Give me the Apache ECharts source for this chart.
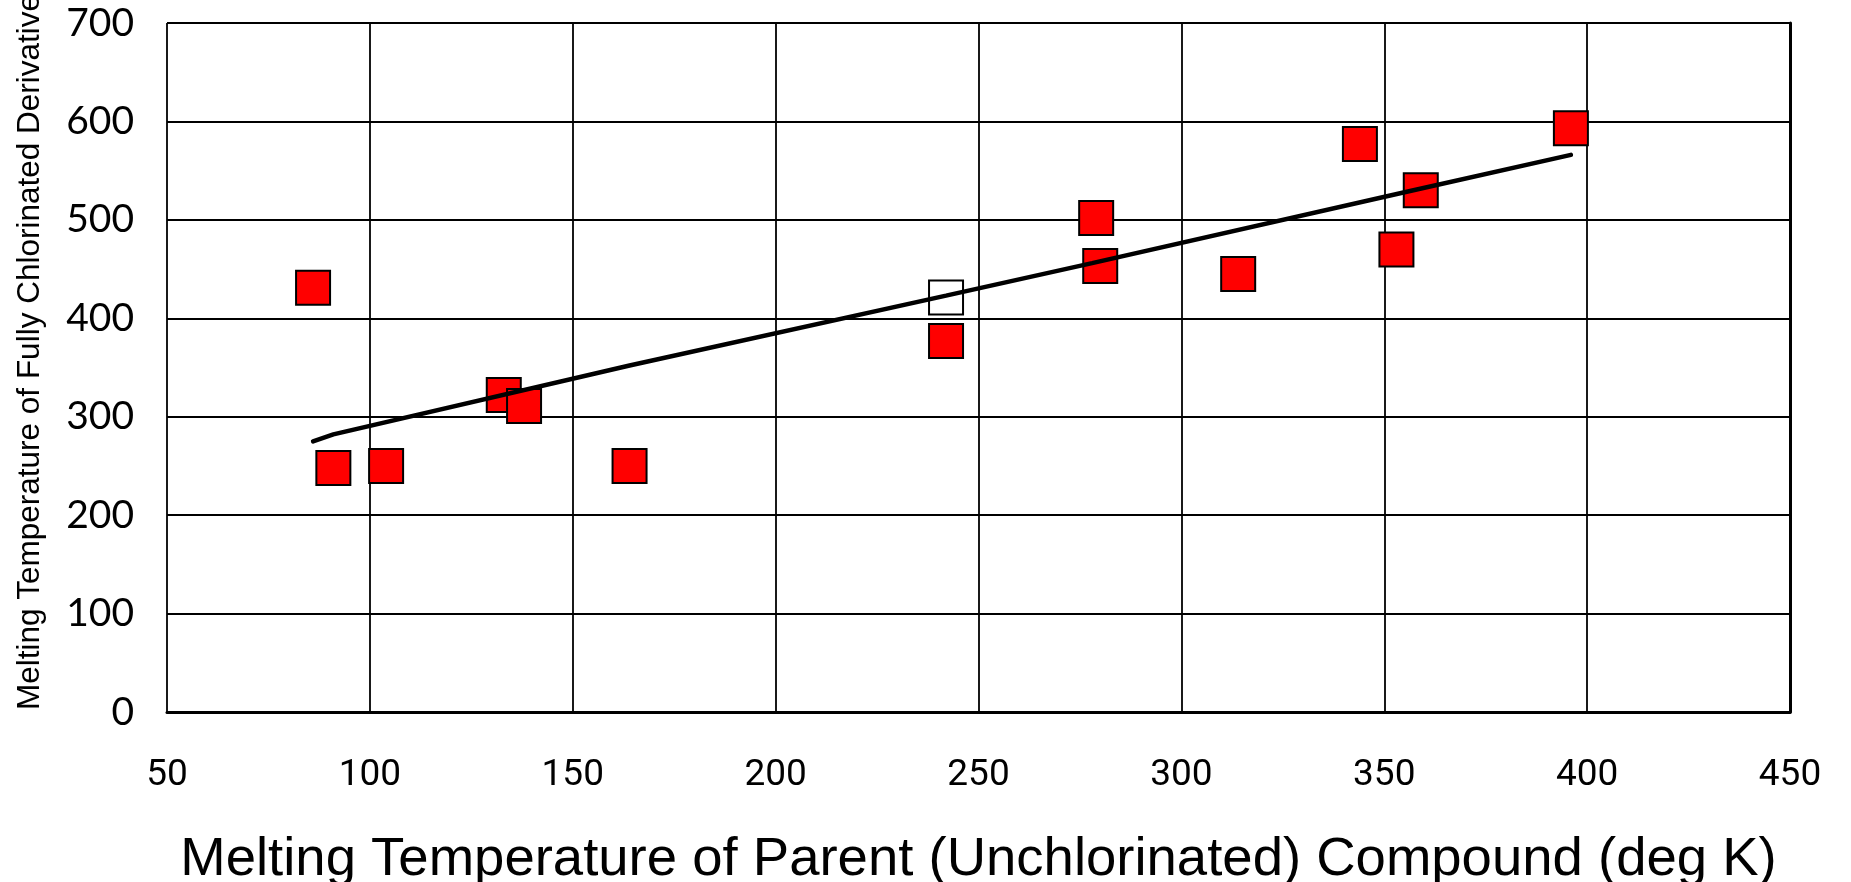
<!DOCTYPE html>
<html>
<head>
<meta charset="utf-8">
<script src="https://cdn.jsdelivr.net/npm/echarts@6/dist/echarts.min.js"></script>
<style>html,body{margin:0;padding:0;background:#fff;}#c{width:1851px;height:882px;}</style>
</head>
<body>
<div id="c"></div>
<script>
// Data
const parentMelt = [86, 91, 104, 133, 138, 164, 242, 279, 280, 314, 344, 353, 359, 396];
const chlorMelt  = [431, 248, 250, 322, 311, 250, 377, 502, 453, 445, 577, 470, 530, 593];
const openX = [242];
const openY = [421];
const trendX = [86, 91, 164, 242, 278, 355, 396];
const trendY = [275, 282, 352, 423, 456, 528, 566];
const xTitle = 'Melting Temperature of Parent (Unchlorinated) Compound (deg K)';
const yTitle = 'Melting Temperature of Fully Chlorinated Derivative';

const chart = echarts.init(document.getElementById('c'), null, {renderer: 'canvas'});
const pairs = (xs, ys) => xs.map((x, i) => [x, ys[i]]);

chart.setOption({
  animation: false,
  backgroundColor: '#ffffff',
  grid: {left: 167, right: 61, top: 23, bottom: 170, containLabel: false, outerBoundsMode: 'none'},
  xAxis: {
    type: 'value', min: 50, max: 450, interval: 50,
    axisLine: {show: true, onZero: false, lineStyle: {color: '#000', width: 3}},
    axisTick: {show: false},
    splitLine: {show: true, lineStyle: {color: '#000', width: 1.8}},
    axisLabel: {color: '#000', fontFamily: 'Roboto', fontSize: 37, margin: 45},
    name: xTitle, nameLocation: 'middle', nameGap: 120,
    nameTextStyle: {color: '#000', fontFamily: 'Liberation Sans', fontSize: 54.5}
  },
  yAxis: [{
    type: 'value', min: 0, max: 700, interval: 100,
    axisLine: {show: false},
    axisTick: {show: false},
    splitLine: {show: true, lineStyle: {color: '#000', width: 1.8}},
    axisLabel: {color: '#000', fontFamily: 'Lato', fontSize: 39, margin: 33}
  }, {
    type: 'value', min: 0, max: 700, interval: 100, position: 'right',
    axisLine: {show: true, lineStyle: {color: '#000', width: 3}},
    axisTick: {show: false}, axisLabel: {show: false}, splitLine: {show: false}
  }],
  graphic: [{
    type: 'text', x: 30, y: 352, rotation: Math.PI / 2,
    style: {text: yTitle, fill: '#000', font: '31.5px "Liberation Sans"', textAlign: 'center', textVerticalAlign: 'middle'}
  }],
  series: [{
    type: 'line', data: pairs(trendX, trendY), symbol: 'none', smooth: false,
    lineStyle: {color: '#000', width: 4.5, cap: 'round'}, z: 3
  }, {
    type: 'scatter', data: pairs(openX, openY), symbol: 'rect', symbolSize: 34,
    itemStyle: {color: 'rgba(255,255,255,0)', borderColor: '#000', borderWidth: 2, opacity: 1}, z: 2
  }, {
    type: 'scatter', data: pairs(parentMelt, chlorMelt), symbol: 'rect', symbolSize: 34,
    itemStyle: {color: '#ff0000', borderColor: '#000', borderWidth: 2, opacity: 1}, z: 2
  }]
});
</script>
</body>
</html>
